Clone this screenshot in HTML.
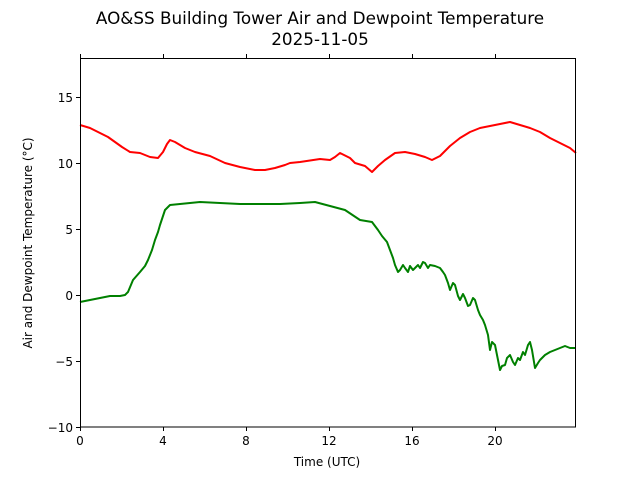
<!DOCTYPE html>
<html><head><meta charset="utf-8"><style>body{margin:0;background:#fff}svg{display:block}text{font-family:"DejaVu Sans","Liberation Sans",sans-serif;fill:#000}</style></head>
<body>
<svg width="640" height="480" viewBox="0 0 640 480">
<text x="320" y="24" font-size="16.8" text-anchor="middle">AO&amp;SS Building Tower Air and Dewpoint Temperature</text>
<text x="320" y="45" font-size="16.8" text-anchor="middle">2025-11-05</text>
<g fill="none" stroke-width="2" stroke-linejoin="round">
<polyline stroke="#ff0000" points="80,125 90,128 100,133 108,137 115,142 122,147 130,152 140,153 150,157 158,158 163,152 167,144 170,140 175,142 185,148 195,152 210,156 225,163 240,167 255,170 265,170 275,168 285,165 290,163 300,162 320,159 330,160 335,157 340,153 350,158 355,163 365,166 372,172 378,166 385,160 395,153 405,152 415,154 425,157 432,160 440,156 450,146 460,138 470,132 480,128 490,126 500,124 510,122 520,125 530,128 540,132 550,138 560,143 570,148 576,153"/>
<polyline stroke="#008000" points="80,302 85,301 90,300 95,299 100,298 110,296 120,296 125,295 128,292 133,280 140,272 145,266 148,260 152,250 155,240 158,232 160,225 165,210 170,205 180,204 200,202 220,203 240,204 260,204 280,204 300,203 315,202 330,206 345,210 360,220 372,222 378,230 382,236 387,242 390,250 393,258 395,265 398,272 400,270 403,265 405,268 408,272 410,266 413,270 415,268 418,265 420,268 423,262 425,263 428,268 430,265 435,266 440,268 443,272 445,275 448,283 450,290 453,283 455,285 458,296 460,300 463,294 465,298 468,306 470,305 473,298 475,300 478,310 480,315 483,320 485,325 488,335 490,350 492,342 495,345 498,360 500,370 502,366 505,365 507,358 510,355 513,362 515,365 518,358 520,360 523,352 525,355 528,345 530,342 532,350 535,368 538,363 540,360 545,355 550,352 555,350 560,348 565,346 570,348 576,348"/>
</g>
<rect x="80.5" y="58.5" width="495" height="368.5" fill="none" stroke="#000" stroke-width="1"/>
<g stroke="#000" stroke-width="1">
<line x1="80.5" y1="427" x2="80.5" y2="431"/><line x1="163.5" y1="427" x2="163.5" y2="431"/><line x1="246.5" y1="427" x2="246.5" y2="431"/><line x1="329.5" y1="427" x2="329.5" y2="431"/><line x1="412.5" y1="427" x2="412.5" y2="431"/><line x1="495.5" y1="427" x2="495.5" y2="431"/>
<line x1="80.5" y1="58" x2="80.5" y2="54"/><line x1="163.5" y1="58" x2="163.5" y2="54"/><line x1="246.5" y1="58" x2="246.5" y2="54"/><line x1="329.5" y1="58" x2="329.5" y2="54"/><line x1="412.5" y1="58" x2="412.5" y2="54"/><line x1="495.5" y1="58" x2="495.5" y2="54"/>
<line x1="76" y1="427.5" x2="80" y2="427.5"/><line x1="76" y1="361.5" x2="80" y2="361.5"/><line x1="76" y1="295.5" x2="80" y2="295.5"/><line x1="76" y1="229.5" x2="80" y2="229.5"/><line x1="76" y1="163.5" x2="80" y2="163.5"/><line x1="76" y1="97.5" x2="80" y2="97.5"/>
</g>
<g font-size="12" text-anchor="middle">
<text x="80" y="445">0</text><text x="163" y="445">4</text><text x="246" y="445">8</text><text x="329" y="445">12</text><text x="412" y="445">16</text><text x="495" y="445">20</text>
<text x="327" y="466">Time (UTC)</text>
</g>
<g font-size="12" text-anchor="end">
<text x="73" y="432">−10</text><text x="73" y="366">−5</text><text x="73" y="300">0</text><text x="73" y="234">5</text><text x="73" y="168">10</text><text x="73" y="102">15</text>
</g>
<text transform="translate(32,243) rotate(-90)" font-size="12" text-anchor="middle">Air and Dewpoint Temperature (°C)</text>
</svg>
</body></html>
